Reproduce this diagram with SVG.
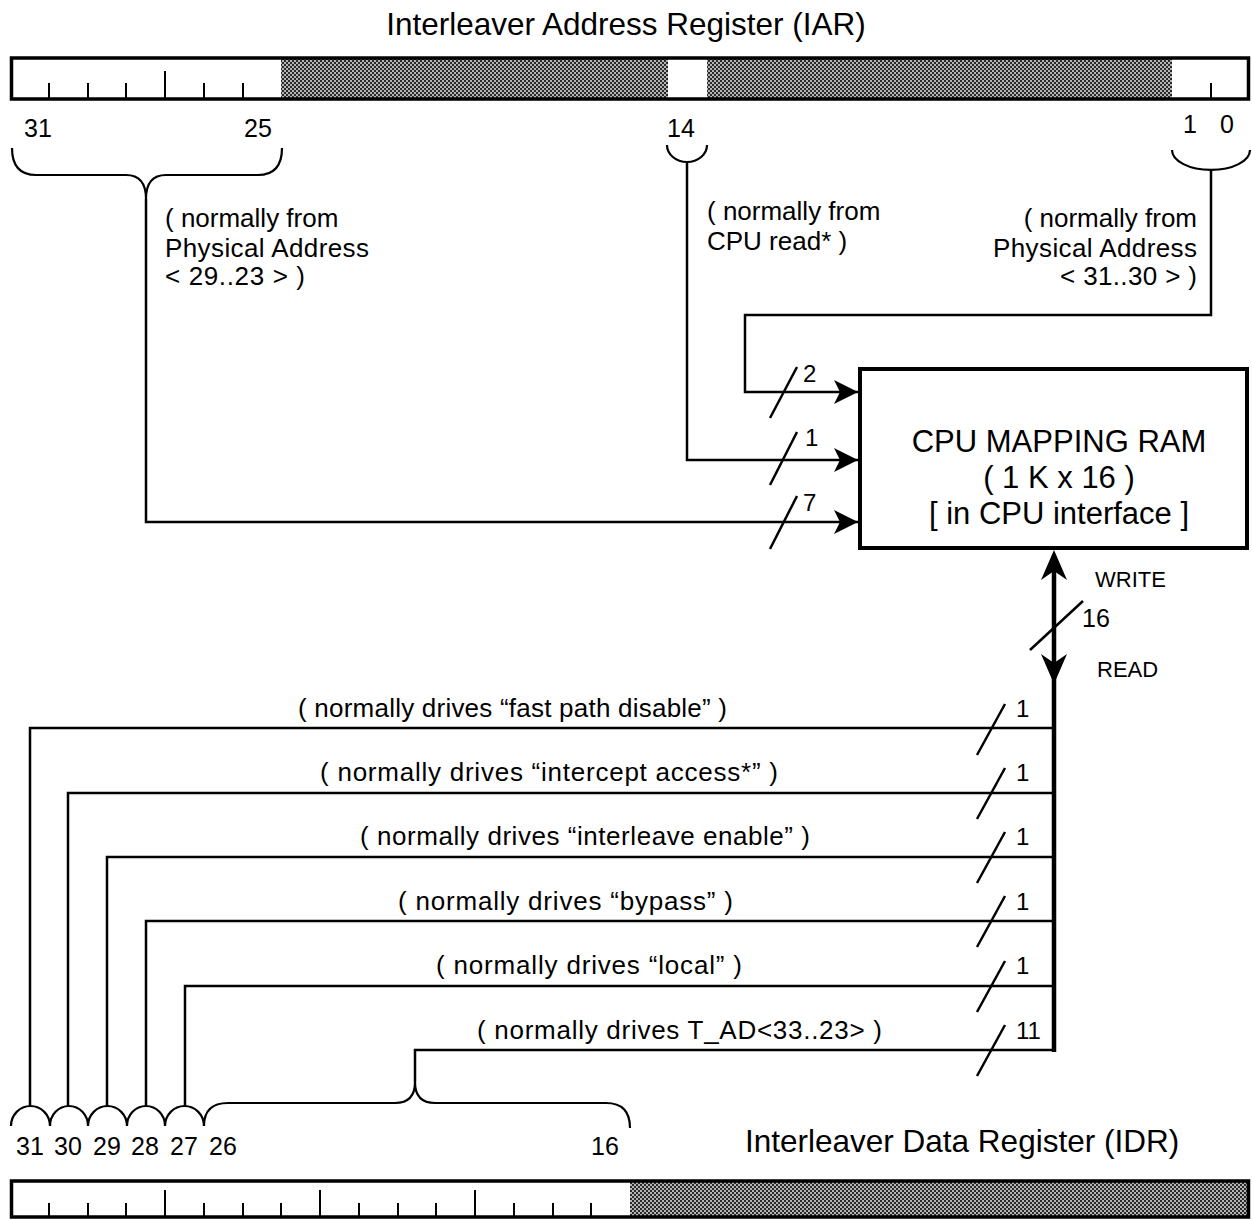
<svg xmlns="http://www.w3.org/2000/svg" width="1252" height="1220" viewBox="0 0 1252 1220">
<style>
text{font-family:"Liberation Sans",Arial,Helvetica,sans-serif;fill:#000}
.title{font-size:31.5px}
.lbl{font-size:26px}
.num{font-size:25px}
.sm{font-size:22px}
.bn{font-size:24px}
.ram{font-size:31px}
.ln{fill:none;stroke:#000;stroke-width:2.5}
.br{fill:none;stroke:#000;stroke-width:2.2}
.bus{fill:none;stroke:#000;stroke-width:4.5}
.sl{fill:none;stroke:#000;stroke-width:2.5}
.reg{fill:none;stroke:#000;stroke-width:3.5}
.tick{stroke:#000;stroke-width:2}
.end{text-anchor:end}
.mid{text-anchor:middle}
</style>
<defs>
<pattern id="dither" width="4" height="4" patternUnits="userSpaceOnUse">
<rect width="4" height="4" fill="#b4b4b4"/>
<rect width="2" height="2" fill="#2a2a2a"/>
<rect x="2" y="2" width="2" height="2" fill="#2a2a2a"/>
</pattern>
<marker id="arr" markerUnits="userSpaceOnUse" viewBox="-26 -13 28 26" markerWidth="28" markerHeight="26" refX="0" refY="0" orient="auto">
<path d="M0,0 L-24,-12 L-18,0 L-24,12 Z" fill="#000"/>
</marker>
</defs>
<rect width="1252" height="1220" fill="#fff"/>

<g id="iar">
<text class="title mid" x="626" y="35">Interleaver Address Register (IAR)</text>
<rect x="281" y="58" width="387" height="41" fill="url(#dither)"/>
<rect x="707" y="58" width="465" height="41" fill="url(#dither)"/>
<g class="tick">
<line x1="49" y1="83" x2="49" y2="99"/>
<line x1="88" y1="83" x2="88" y2="99"/>
<line x1="126" y1="83" x2="126" y2="99"/>
<line x1="165" y1="71" x2="165" y2="99"/>
<line x1="204" y1="83" x2="204" y2="99"/>
<line x1="243" y1="83" x2="243" y2="99"/>
<line x1="1211" y1="83" x2="1211" y2="99"/>
</g>
<rect class="reg" x="11.5" y="58" width="1237" height="41"/>
<text class="num" x="24" y="137">31</text>
<text class="num" x="244" y="137">25</text>
<text class="num" x="667" y="137">14</text>
<text class="num" x="1183" y="133">1</text>
<text class="num" x="1220" y="133">0</text>
</g>

<g id="ram">
<rect x="860" y="369" width="387" height="179" fill="#fff" stroke="#000" stroke-width="4"/>
<text class="ram mid" x="1059" y="452">CPU MAPPING RAM</text>
<text class="ram mid" x="1059" y="488">( 1 K x 16 )</text>
<text class="ram mid" x="1059" y="524">[ in CPU interface ]</text>
</g>

<g id="idr">
<text class="title" x="745" y="1152">Interleaver Data Register (IDR)</text>
<rect x="630" y="1181" width="618" height="36" fill="url(#dither)"/>
<g class="tick">
<line x1="49" y1="1203" x2="49" y2="1217"/>
<line x1="88" y1="1203" x2="88" y2="1217"/>
<line x1="126" y1="1203" x2="126" y2="1217"/>
<line x1="165" y1="1190" x2="165" y2="1217"/>
<line x1="204" y1="1203" x2="204" y2="1217"/>
<line x1="243" y1="1203" x2="243" y2="1217"/>
<line x1="281" y1="1203" x2="281" y2="1217"/>
<line x1="320" y1="1190" x2="320" y2="1217"/>
<line x1="359" y1="1203" x2="359" y2="1217"/>
<line x1="398" y1="1203" x2="398" y2="1217"/>
<line x1="436" y1="1203" x2="436" y2="1217"/>
<line x1="475" y1="1190" x2="475" y2="1217"/>
<line x1="514" y1="1203" x2="514" y2="1217"/>
<line x1="553" y1="1203" x2="553" y2="1217"/>
<line x1="591" y1="1203" x2="591" y2="1217"/>
</g>
<rect class="reg" x="11.5" y="1181" width="1237" height="36"/>
<text class="num" x="16" y="1155">31</text>
<text class="num" x="54" y="1155">30</text>
<text class="num" x="93" y="1155">29</text>
<text class="num" x="131" y="1155">28</text>
<text class="num" x="170" y="1155">27</text>
<text class="num" x="209" y="1155">26</text>
<text class="num" x="591" y="1155">16</text>
</g>

<g id="connectors">
<path class="br" d="M12,148 Q12,175 36,175 L126,175 Q146,175 146,199 Q146,175 166,175 L258,175 Q282,175 282,148"/>
<path class="br" d="M667,145 A20,17 0 0 0 707,145"/>
<path class="br" d="M1172,150 A39,20 0 0 0 1250,150"/>
<path class="ln" d="M146,199 L146,522 L858,522" marker-end="url(#arr)"/>
<path class="ln" d="M687,162 L687,460 L858,460" marker-end="url(#arr)"/>
<path class="ln" d="M1211,170 L1211,315 L745,315 L745,392 L858,392" marker-end="url(#arr)"/>
<line class="sl" x1="770" y1="418" x2="797" y2="367"/>
<line class="sl" x1="770" y1="485" x2="797" y2="432"/>
<line class="sl" x1="770" y1="549" x2="797" y2="496"/>
<line class="bus" x1="1054" y1="556" x2="1054" y2="1052"/>
<path d="M1054,550 L1041,580 L1054,571 L1067,580 Z" fill="#000"/>
<path d="M1054,684 L1041,654 L1054,663 L1067,654 Z" fill="#000"/>
<line class="sl" x1="1030" y1="650" x2="1083" y2="601"/>
<path class="ln" d="M1054,728 L30,728 L30,1106"/>
<path class="ln" d="M1054,793 L68,793 L68,1106"/>
<path class="ln" d="M1054,857 L107,857 L107,1106"/>
<path class="ln" d="M1054,921 L146,921 L146,1106"/>
<path class="ln" d="M1054,986 L185,986 L185,1106"/>
<path class="ln" d="M1054,1050 L415,1050 L415,1082"/>
<line class="sl" x1="977" y1="755" x2="1005" y2="704"/>
<line class="sl" x1="977" y1="819" x2="1005" y2="768"/>
<line class="sl" x1="977" y1="883" x2="1005" y2="832"/>
<line class="sl" x1="977" y1="947" x2="1005" y2="896"/>
<line class="sl" x1="977" y1="1012" x2="1005" y2="961"/>
<line class="sl" x1="977" y1="1076" x2="1005" y2="1025"/>
<path class="br" d="M11,1126 A19.5,20 0 0 1 50,1126 A19,20 0 0 1 88,1126 A19.5,20 0 0 1 127,1126 A19,20 0 0 1 165,1126 A19.5,20 0 0 1 204,1126"/>
<path class="br" d="M204,1126 Q204,1103 228,1103 L395,1103 Q415,1103 415,1082 Q415,1103 435,1103 L606,1103 Q630,1103 630,1128"/>
</g>

<g id="labels">
<text class="lbl" x="165" y="227">( normally from</text>
<text class="lbl" x="165" y="257" textLength="204" lengthAdjust="spacing">Physical Address</text>
<text class="lbl" x="165" y="285" textLength="140" lengthAdjust="spacing">&lt; 29..23 &gt; )</text>
<text class="lbl" x="707" y="220">( normally from</text>
<text class="lbl" x="707" y="250">CPU read* )</text>
<text class="lbl end" x="1197" y="227">( normally from</text>
<text class="lbl" x="993" y="257" textLength="204" lengthAdjust="spacing">Physical Address</text>
<text class="lbl" x="1060" y="285" textLength="137" lengthAdjust="spacing">&lt; 31..30 &gt; )</text>
<text class="bn" x="803" y="382">2</text>
<text class="bn" x="805" y="446">1</text>
<text class="bn" x="803" y="511">7</text>
<text class="sm" x="1095" y="587">WRITE</text>
<text class="num" x="1082" y="627">16</text>
<text class="sm" x="1097" y="677">READ</text>
<text class="lbl" x="298" y="717" textLength="429" lengthAdjust="spacing">( normally drives “fast path disable” )</text>
<text class="lbl" x="320" y="781" textLength="458" lengthAdjust="spacing">( normally drives “intercept access*” )</text>
<text class="lbl" x="360" y="845" textLength="450" lengthAdjust="spacing">( normally drives “interleave enable” )</text>
<text class="lbl" x="398" y="910" textLength="335" lengthAdjust="spacing">( normally drives “bypass” )</text>
<text class="lbl" x="436" y="974" textLength="306" lengthAdjust="spacing">( normally drives “local” )</text>
<text class="lbl" x="477" y="1039" textLength="405" lengthAdjust="spacing">( normally drives T_AD&lt;33..23&gt; )</text>
<text class="bn" x="1016" y="717">1</text>
<text class="bn" x="1016" y="781">1</text>
<text class="bn" x="1016" y="845">1</text>
<text class="bn" x="1016" y="910">1</text>
<text class="bn" x="1016" y="974">1</text>
<text class="bn" x="1016" y="1039">11</text>
</g>
</svg>
